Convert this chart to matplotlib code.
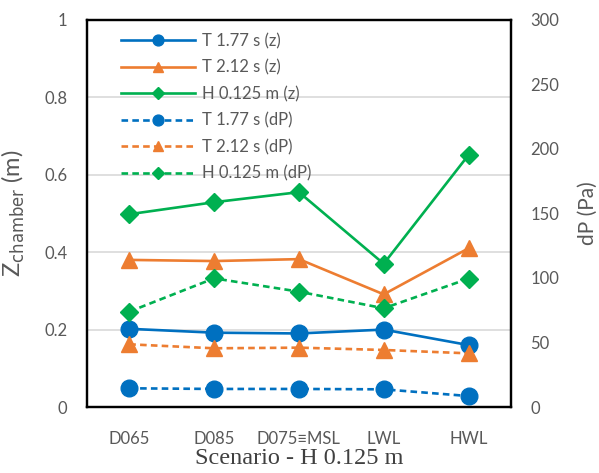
import numpy as np
import matplotlib
matplotlib.use("Agg")
import matplotlib.pyplot as plt

scenarios = ["D065", "D085", "D075≡MSL", "LWL", "HWL"]
z_t177 = [0.202, 0.192, 0.190, 0.200, 0.160]
z_t212 = [0.380, 0.377, 0.382, 0.291, 0.410]
z_h0125 = [0.498, 0.529, 0.555, 0.370, 0.651]
dp_t177 = [14.5, 14.0, 14.0, 13.7, 8.5]
dp_t212 = [48.6, 45.5, 46.0, 44.2, 41.6]
dp_h0125 = [73.9, 99.7, 89.4, 76.5, 99.5]

BLUE = "#0070C0"; ORANGE = "#ED7D31"; GREEN = "#00B050"; GREY = "#595959"
plt.rcParams["font.family"] = ["Lato", "DejaVu Sans"]

fig = plt.figure(figsize=(5.99, 4.73), dpi=100)
ax = fig.add_axes([0.145, 0.1395, 0.708, 0.8185])
a2 = ax.twinx()
x = np.arange(len(scenarios))

lw = 1.9
h = []
h += ax.plot(x, z_t177, "-o", c=BLUE, lw=lw, ms=12, label="T 1.77 s (z)")
h += ax.plot(x, z_t212, "-^", c=ORANGE, lw=lw, ms=12, label="T 2.12 s (z)")
h += ax.plot(x, z_h0125, "-D", c=GREEN, lw=lw, ms=9, label="H 0.125 m (z)")
h += a2.plot(x, dp_t177, "--o", c=BLUE, lw=lw, ms=12, dashes=(2.5, 1.6), label="T 1.77 s (dP)")
h += a2.plot(x, dp_t212, "--^", c=ORANGE, lw=lw, ms=12, dashes=(2.5, 1.6), label="T 2.12 s (dP)")
h += a2.plot(x, dp_h0125, "--D", c=GREEN, lw=lw, ms=9, dashes=(2.5, 1.6), label="H 0.125 m (dP)")

ax.set_xlim(-0.5, len(scenarios) - 0.5)
ax.set_ylim(0, 1); a2.set_ylim(0, 300)
ax.set_yticks(np.arange(0, 1.01, 0.2)); ax.set_yticklabels(["0", "0.2", "0.4", "0.6", "0.8", "1"])
a2.set_yticks(np.arange(0, 301, 50))
ax.set_xticks(x); ax.set_xticklabels(scenarios)
ax.grid(axis="y", color="#D9D9D9", lw=1.2); ax.set_axisbelow(True)
for a in (ax, a2):
    a.tick_params(length=0, labelsize=12, colors=GREY, pad=14)
    for s in a.spines.values():
        s.set_color("black"); s.set_linewidth(1.6)
ax.tick_params(axis="x", labelsize=12, pad=17)
ax.set_ylabel(r"Z$_{\mathrm{chamber}}$ (m)", fontsize=17, color=GREY)
ax.yaxis.set_label_coords(-0.142, 0.5)
a2.set_ylabel("dP (Pa)", fontsize=15, color=GREY)
a2.yaxis.set_label_coords(1.158, 0.5)
ax.set_xlabel("Scenario - H 0.125 m", fontsize=17.5, color="#404040", family="Liberation Serif")
ax.xaxis.set_label_coords(0.5, -0.105)

leg = ax.legend(handles=h, loc="upper left", bbox_to_anchor=(0.05, 1.0), frameon=False,
                fontsize=12, handlelength=4.4, markerscale=0.65, labelspacing=0.62,
                handletextpad=0.45, borderaxespad=0.4)
for t in leg.get_texts():
    t.set_color(GREY)

fig.savefig("out.png", dpi=100)
